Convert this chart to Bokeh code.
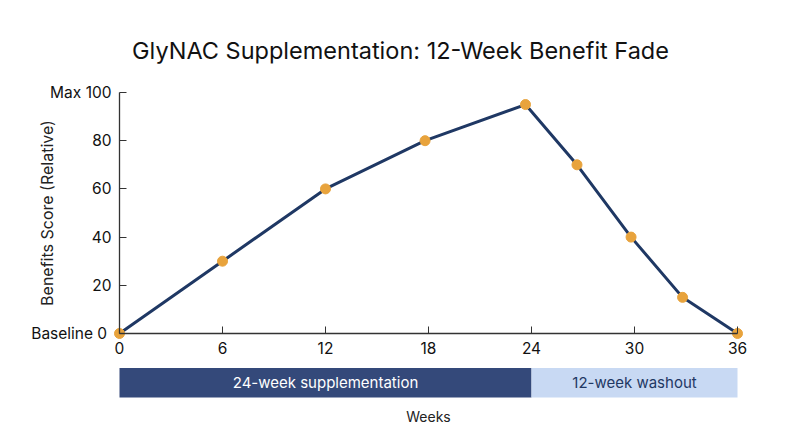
from bokeh.plotting import figure
from bokeh.models import ColumnDataSource, LinearAxis, FixedTicker, Range1d, Title, Label
from bokeh.core.properties import value
from bokeh.embed import file_html
from bokeh.resources import INLINE

# ---- data ----
weeks = [0, 6, 12, 17.8, 23.65, 26.65, 29.8, 32.8, 36]
scores = [0, 30, 60, 80, 95, 70, 40, 15, 0]

x_ticks = [0, 6, 12, 18, 24, 30, 36]
y_ticks = [0, 20, 40, 60, 80, 100]
y_tick_labels = {0: "Baseline  0", 100: "Max 100"}

phase_labels = ["24-week supplementation", "12-week washout"]
phase_start = [0, 24]
phase_end = [24, 36]
phase_colors = ["#34497a", "#c8d9f3"]
phase_text_colors = ["#ffffff", "#1f3864"]

x_title = "Weeks"
y_title = "Benefits Score (Relative)"

FONT = "Inter"
W, H = 784, 431

# layout (canvas coords)
px_per_week = (737 - 119) / 36.0
px_per_unit = (333 - 92) / 100.0
fl, fr = 30, 770
ft, fb = 69, 430
x0 = (fl - 119) / px_per_week
x1 = 36 + (fr - 737) / px_per_week
y1 = (333 - ft) / px_per_unit
y0 = (333 - fb) / px_per_unit

p = figure(width=W, height=H, output_backend="svg", toolbar_location=None,
           x_range=Range1d(x0, x1), y_range=Range1d(y0, y1),
           x_axis_type=None, y_axis_type=None,
           min_border_left=fl, min_border_right=W - fr,
           min_border_top=ft, min_border_bottom=H - fb)
p.outline_line_color = None
p.grid.visible = False
p.background_fill_color = "white"
p.border_fill_color = "white"

t = Title(text="GlyNAC Supplementation: 12-Week Benefit Fade", align="center",
          text_font=FONT, text_font_size="23.5px", text_font_style="normal",
          text_color="#111111")
p.add_layout(t, "above")

# y axis at x=0
yax = LinearAxis(fixed_location=0, ticker=FixedTicker(ticks=y_ticks), bounds=(0, 100))
yax.major_label_overrides = {k: v for k, v in y_tick_labels.items()}
yax.axis_label = y_title
yax.axis_label_text_font = FONT
yax.axis_label_text_font_size = "16px"
yax.axis_label_text_font_style = "normal"
yax.axis_label_text_color = "#222222"
yax.axis_label_standoff = -29
yax.major_label_text_font = FONT
yax.major_label_text_font_size = "15.5px"
yax.major_label_text_color = "#111111"
yax.major_label_standoff = 8
yax.major_tick_in = 7
yax.major_tick_out = 0
yax.minor_tick_line_color = None
yax.axis_line_color = "#333333"
yax.major_tick_line_color = "#333333"
yax.axis_line_width = 1.3
p.add_layout(yax, "left")

# x axis at y=0
xax = LinearAxis(fixed_location=0, ticker=FixedTicker(ticks=x_ticks), bounds=(0, 36))
xax.major_label_text_font = FONT
xax.major_label_text_font_size = "15.5px"
xax.major_label_text_color = "#111111"
xax.major_tick_in = 7
xax.major_tick_out = 0
xax.major_label_standoff = 8
xax.minor_tick_line_color = None
xax.axis_line_color = "#333333"
xax.major_tick_line_color = "#333333"
xax.axis_line_width = 1.3
p.add_layout(xax, "below")

# phase bar
bar_top = (333 - 367.5) / px_per_unit
bar_bottom = (333 - 397) / px_per_unit
mid = [(a + b) / 2 for a, b in zip(phase_start, phase_end)]
psrc = ColumnDataSource(dict(left=phase_start, right=phase_end, color=phase_colors,
                             label=phase_labels, tcolor=phase_text_colors, mid=mid,
                             ym=[(bar_top + bar_bottom) / 2] * 2))
p.quad(left="left", right="right", top=bar_top, bottom=bar_bottom, fill_color="color",
       line_color=None, source=psrc)
p.text(x="mid", y="ym", text="label", text_color="tcolor", text_align="center",
       text_baseline="middle", text_font=value(FONT), text_font_size="15px", source=psrc)

# x axis title under the phase bar
p.add_layout(Label(x=(x_ticks[0] + x_ticks[-1]) / 2, y=(333 - 416) / px_per_unit,
                   text=x_title, text_align="center", text_baseline="middle",
                   text_font=FONT, text_font_size="14px", text_color="#222222"))

# line + points
src = ColumnDataSource(dict(x=weeks, y=scores))
p.line("x", "y", source=src, line_color="#1f3864", line_width=3)
p.scatter("x", "y", source=src, size=10, fill_color="#e8a33c", line_color="#e8a33c")

open("out.html", "w").write(file_html(p, INLINE))
